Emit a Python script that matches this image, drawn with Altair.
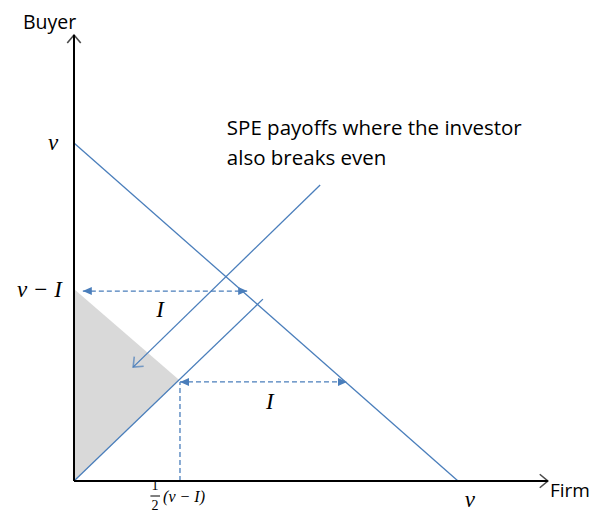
import altair as alt
import pandas as pd

# Coordinates in units of v (x: Firm payoff, y: Buyer payoff)
# Solid blue segments: budget line v-v, investor break-even line, pointer from the note
solid_x1 = [0.0, 0.0, 0.641]
solid_y1 = [1.0, 0.0, 0.876]
solid_x2 = [1.0, 0.492, 0.154]
solid_y2 = [0.0, 0.538, 0.337]

# Dashed blue segments: upper I arrow, lower I arrow, vertical drop to 1/2(v-I)
dash_x1 = [0.023, 0.276, 0.276]
dash_y1 = [0.562, 0.293, 0.0]
dash_x2 = [0.451, 0.711, 0.276]
dash_y2 = [0.562, 0.293, 0.293]

# Axes (black)
axis_x1 = [0.0, 0.0]
axis_y1 = [0.0, 0.0]
axis_x2 = [0.0, 1.234]
axis_y2 = [1.3195, 0.0]

# Shaded triangle (x, upper edge, lower edge)
tri_x = [0.0, 0.274]
tri_top = [0.568, 0.299]
tri_bot = [0.0, 0.299]

# Arrow heads
open_x = [0.0, 1.234, 0.154]
open_y = [1.3195, 0.0, 0.337]
open_ang = [0, 90, 226]
open_col = ["black", "black", "#4a7ebb"]

fill_x = [0.023, 0.451, 0.276, 0.711]
fill_y = [0.562, 0.562, 0.293, 0.293]
fill_ang = [180, 0, 180, 0]

# Labels
buyer_text = ["Buyer"]
buyer_x = [-0.1328]
buyer_y = [1.3373]

note_text = ["SPE payoffs where the investor", "also breaks even"]
note_x = [0.398, 0.398]
note_y = [1.0237, 0.935]

firm_text = ["Firm"]
firm_x = [1.2396]
firm_y = [-0.0473]

math_text = ["v", "v", "I", "I"]
math_x = [-0.0547, 1.031, 0.224, 0.510]
math_y = [1.0, -0.0562, 0.506, 0.234]

vmi_text = ["v − I"]
vmi_x = [-0.03125]
vmi_y = [0.565]

frac_text = ["1", "2"]
frac_x = [0.211, 0.211]
frac_y = [-0.0148, -0.0740]

paren_text = ["(v − I)"]
paren_x = [0.232]
paren_y = [-0.0473]

bar_x1 = [0.199]
bar_x2 = [0.224]
bar_y = [-0.0444]

BLUE = "#4a7ebb"
W, H = 584, 505
xs = alt.Scale(domain=[-66 / 384, (W - 66) / 384], nice=False, zero=False)
ys = alt.Scale(domain=[(473 - H) / 338, 473 / 338], nice=False, zero=False)


def seg_df(x1, y1, x2, y2):
    return pd.DataFrame({"x": x1, "y": y1, "x2": x2, "y2": y2})


def rules(df, color, width, dash=None):
    kw = dict(color=color, strokeWidth=width)
    if dash:
        kw["strokeDash"] = dash
    return alt.Chart(df).mark_rule(**kw).encode(
        x=alt.X("x:Q", scale=xs, axis=None),
        y=alt.Y("y:Q", scale=ys, axis=None),
        x2="x2:Q",
        y2="y2:Q",
    )


def texts(t, x, y, **kw):
    df = pd.DataFrame({"t": t, "x": x, "y": y})
    return alt.Chart(df).mark_text(**kw).encode(
        x=alt.X("x:Q", scale=xs, axis=None),
        y=alt.Y("y:Q", scale=ys, axis=None),
        text="t:N",
    )


tri = alt.Chart(pd.DataFrame({"x": tri_x, "y": tri_top, "y2": tri_bot})).mark_area(
    color="#d9d9d9", opacity=1
).encode(
    x=alt.X("x:Q", scale=xs, axis=None),
    y=alt.Y("y:Q", scale=ys, axis=None),
    y2="y2:Q",
)

solid = rules(seg_df(solid_x1, solid_y1, solid_x2, solid_y2), BLUE, 1.3)
dashed = rules(seg_df(dash_x1, dash_y1, dash_x2, dash_y2), BLUE, 1.3, [5, 3])
axes = rules(seg_df(axis_x1, axis_y1, axis_x2, axis_y2), "black", 2)
bar = rules(seg_df(bar_x1, bar_y, bar_x2, bar_y), "black", 1)

open_heads = alt.Chart(
    pd.DataFrame({"x": open_x, "y": open_y, "a": open_ang, "c": open_col})
).mark_point(
    shape="M -0.75 0.9 L 0 0 L 0.75 0.9", filled=False, size=324, strokeWidth=1.6
).encode(
    x=alt.X("x:Q", scale=xs, axis=None),
    y=alt.Y("y:Q", scale=ys, axis=None),
    angle=alt.Angle("a:Q", scale=None),
    color=alt.Color("c:N", scale=None),
)

fill_heads = alt.Chart(
    pd.DataFrame({"x": fill_x, "y": fill_y, "a": fill_ang})
).mark_point(
    shape="M 0 0 L -1 -0.45 L -1 0.45 Z", filled=True, size=324, color=BLUE, opacity=1
).encode(
    x=alt.X("x:Q", scale=xs, axis=None),
    y=alt.Y("y:Q", scale=ys, axis=None),
    angle=alt.Angle("a:Q", scale=None),
)

buyer = texts(buyer_text, buyer_x, buyer_y, font="Open Sans", fontSize=19.5, align="left",
              baseline="alphabetic", color="black")
note = texts(note_text, note_x, note_y, font="Open Sans", fontSize=20.5, align="left",
             baseline="alphabetic", color="black")
firm = texts(firm_text, firm_x, firm_y, font="Open Sans", fontSize=19, align="left",
             baseline="alphabetic", color="black")
math = texts(math_text, math_x, math_y, font="Liberation Serif", fontStyle="italic",
             fontSize=23, align="center", baseline="middle", color="black")
vmi = texts(vmi_text, vmi_x, vmi_y, font="Liberation Serif", fontStyle="italic",
            fontSize=23, align="right", baseline="middle", color="black")
frac = texts(frac_text, frac_x, frac_y, font="Liberation Serif", fontSize=14,
             align="center", baseline="middle", color="black")
paren = texts(paren_text, paren_x, paren_y, font="Liberation Serif", fontStyle="italic",
              fontSize=16, align="left", baseline="middle", color="black")

chart = alt.layer(
    tri, solid, dashed, axes, bar, open_heads, fill_heads,
    buyer, note, firm, math, vmi, frac, paren
).properties(
    width=W, height=H, padding=0, autosize=alt.AutoSizeParams(type="none")
).configure_view(strokeWidth=0)

chart.save("out.html", embed_options={"renderer": "svg", "actions": False})
